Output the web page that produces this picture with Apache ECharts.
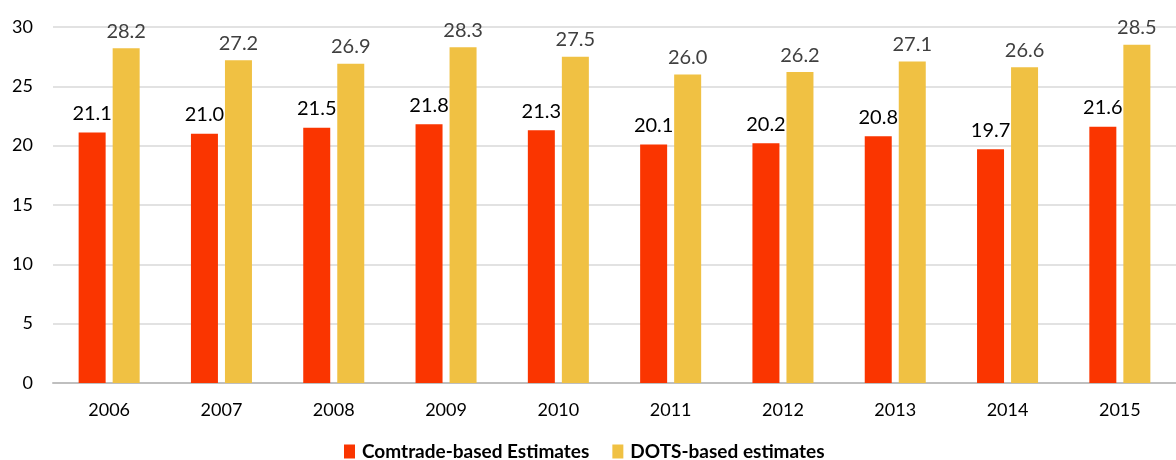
<!DOCTYPE html>
<html><head><meta charset="utf-8">
<script src="https://cdn.jsdelivr.net/npm/echarts@6/dist/echarts.min.js"></script>
<style>html,body{margin:0;padding:0;background:#fff}#c{width:1176px;height:460px}</style>
</head><body><div id="c"></div>
<script>
const categories = ['2006','2007','2008','2009','2010','2011','2012','2013','2014','2015'];
const comtrade = [21.1,21.0,21.5,21.8,21.3,20.1,20.2,20.8,19.7,21.6];
const dots = [28.2,27.2,26.9,28.3,27.5,26.0,26.2,27.1,26.6,28.5];
const yTicks = [0,5,10,15,20,25,30];
const FONT = 'Lato, "Open Sans", sans-serif';
const chart = echarts.init(document.getElementById('c'), null, {renderer:'canvas'});
chart.setOption({
  animation:false,
  textStyle:{fontFamily:FONT},
  grid:{left:53,right:-16,top:27,bottom:77,containLabel:false},
  legend:{
    top:437,left:339,itemWidth:11,itemHeight:14,itemGap:23,icon:'rect',
    textStyle:{fontFamily:FONT,fontSize:19,fontWeight:'bold',color:'#000',padding:[0,0,0,2]},
    data:['Comtrade-based Estimates','DOTS-based estimates']
  },
  xAxis:{
    type:'category',data:categories,
    axisLine:{lineStyle:{color:'#BFBFBF',width:2}},
    axisTick:{show:false},
    axisLabel:{color:'#000',fontSize:18,margin:18,fontFamily:FONT}
  },
  yAxis:{
    type:'value',min:yTicks[0],max:yTicks[yTicks.length-1],interval:5,
    axisLine:{show:false},axisTick:{show:false},
    splitLine:{lineStyle:{color:'#D9D9D9',width:1.5}},
    axisLabel:{color:'#000',fontSize:18,margin:20,fontFamily:FONT}
  },
  series:[
    {name:'Comtrade-based Estimates',type:'bar',data:comtrade,barWidth:27,barGap:'26%',
     itemStyle:{color:'#FA3500'},
     label:{show:true,position:'top',distance:9,color:'#000',fontSize:20,fontFamily:FONT,formatter:p=>p.value.toFixed(1)}},
    {name:'DOTS-based estimates',type:'bar',data:dots,barWidth:27,
     itemStyle:{color:'#F0C143'},
     label:{show:true,position:'top',distance:7,color:'#404040',fontSize:20,fontFamily:FONT,formatter:p=>p.value.toFixed(1)}}
  ]
});
</script></body></html>
